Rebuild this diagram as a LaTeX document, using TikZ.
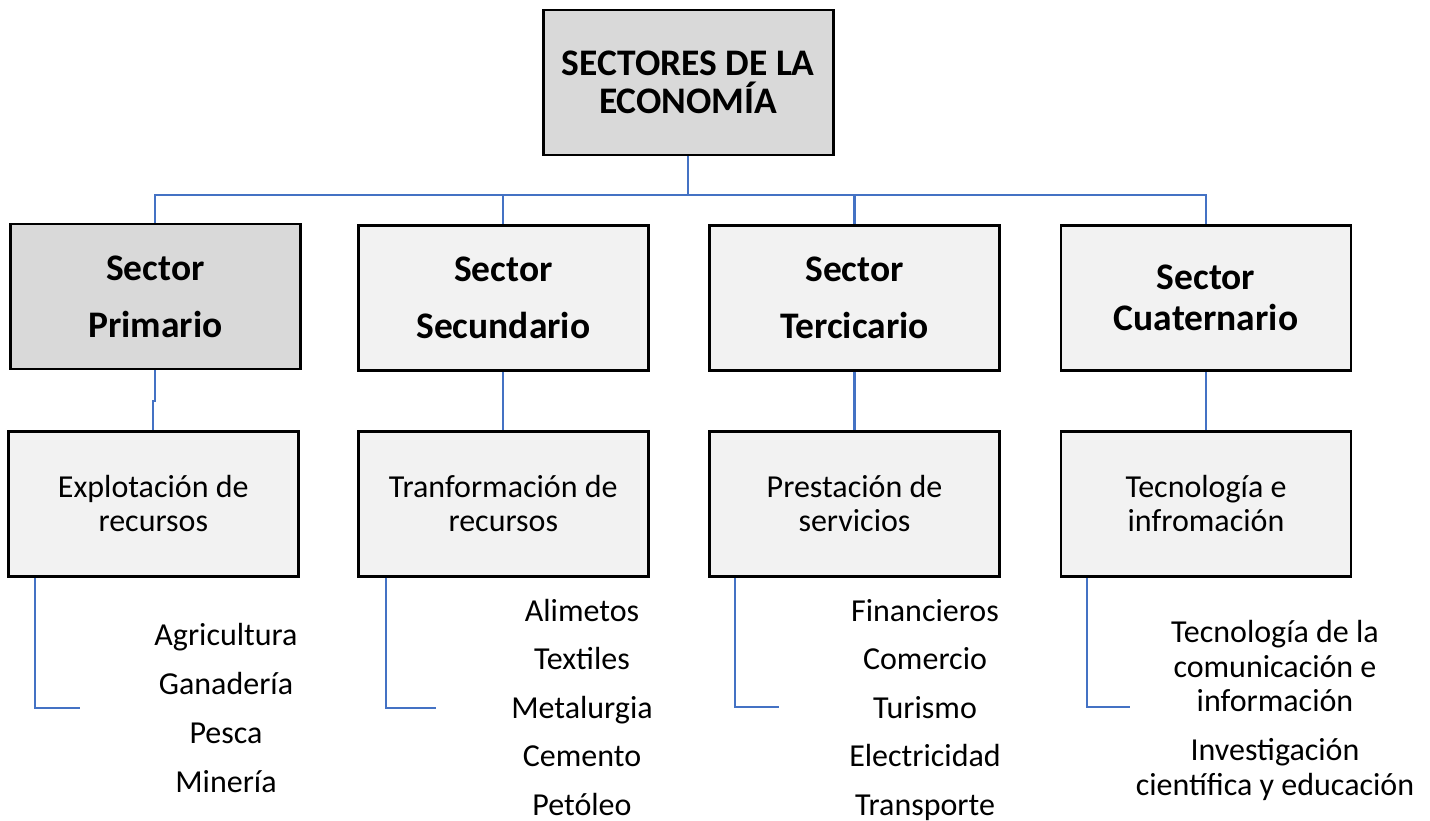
\documentclass[tikz,border=0pt]{standalone}
\usepackage{fontspec}
\setmainfont{Carlito}
\definecolor{connblue}{HTML}{4472C4}
\definecolor{darkfill}{HTML}{D9D9D9}
\definecolor{lightfill}{HTML}{F2F2F2}
\begin{document}
\begin{tikzpicture}[x=1pt,y=-1pt,
  box/.style={draw=black, line width=2.6pt, minimum width=290pt, minimum height=145pt,
    inner sep=0pt, align=center, anchor=center},
  titlebox/.style={box, font=\fontsize{37.5}{57}\selectfont\bfseries},
  textbox/.style={box, fill=lightfill, font=\fontsize{32}{34.5}\selectfont},
  conn/.style={draw=connblue, line width=2.2pt},
  item/.style={inner sep=0pt, anchor=base, font=\fontsize{32}{35}\selectfont}]
\useasboundingbox (0,0) rectangle (1430,821);

% top
\node[titlebox, fill=darkfill, font=\fontsize{37.5}{38}\selectfont\bfseries] (top) at (688.3,82.5) {SECTORES DE LA\\ECONOMÍA};

% sectors
\node[titlebox, fill=darkfill] (s1) at (155.3,296.5) {Sector\\Primario};
\node[titlebox, fill=lightfill] (s2) at (503.3,298.2) {Sector\\Secundario};
\node[titlebox, fill=lightfill] (s3) at (854.5,298.2) {Sector\\Tercicario};
\node[titlebox, fill=lightfill, font=\fontsize{37.5}{41}\selectfont\bfseries] (s4) at (1206,298.2) {Sector\\Cuaternario};

% lower boxes
\node[textbox] (l1) at (153.3,503.7) {Explotación de\\recursos};
\node[textbox] (l2) at (503.3,503.7) {Tranformación de\\recursos};
\node[textbox] (l3) at (854.5,503.7) {Prestación de\\servicios};
\node[textbox] (l4) at (1206,503.7) {Tecnología e\\infromación};

% tree connectors
\foreach \s in {s1,s2,s3,s4}{
  \draw[conn] (top.south) -- ++(0,38.5) -| (\s.north);
}
\draw[conn] (s1.south) -- ++(0,31) -| (l1.north);
\draw[conn] (s2.south) -- (l2.north);
\draw[conn] (s3.south) -- (l3.north);
\draw[conn] (s4.south) -- (l4.north);

% brackets
\coordinate (b1) at (80,708);
\coordinate (b2) at (436,708);
\coordinate (b3) at (779,707);
\coordinate (b4) at (1130,707);
\draw[conn] ([xshift=28.3pt]l1.south west) |- (b1);
\draw[conn] ([xshift=29.3pt]l2.south west) |- (b2);
\draw[conn] ([xshift=27pt]l3.south west) |- (b3);
\draw[conn] ([xshift=27pt]l4.south west) |- (b4);

% lists
\node[item] (a1) at (226,645) {Agricultura};
\node[item] (a2) at (226,694) {Ganadería};
\node[item] (a3) at (226,743) {Pesca};
\node[item] (a4) at (226,792) {Minería};

\node[item] (c1) at (582,621) {Alimetos};
\node[item] (c2) at (582,669.5) {Textiles};
\node[item] (c3) at (582,718) {Metalurgia};
\node[item] (c4) at (582,766.5) {Cemento};
\node[item] (c5) at (582,815) {Petóleo};

\node[item] (t1) at (925,621) {Financieros};
\node[item] (t2) at (925,669.5) {Comercio};
\node[item] (t3) at (925,718) {Turismo};
\node[item] (t4) at (925,766.5) {Electricidad};
\node[item] (t5) at (925,815) {Transporte};

\node[item] (q1) at (1275,642) {Tecnología de la};
\node[item] (q2) at (1275,677) {comunicación e};
\node[item] (q3) at (1275,711) {información};
\node[item] (q4) at (1275,760) {Investigación};
\node[item] (q5) at (1275,795) {científica y educación};
\end{tikzpicture}
\end{document}
